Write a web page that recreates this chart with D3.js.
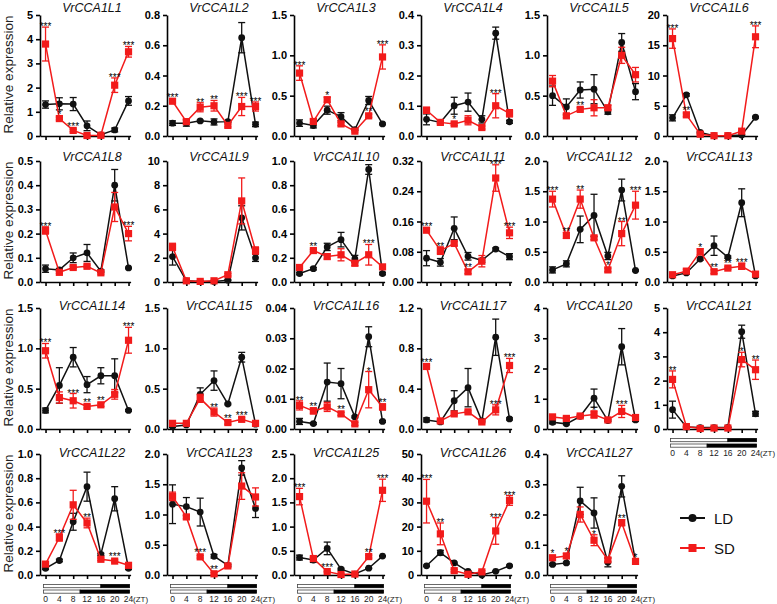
<!DOCTYPE html>
<html><head><meta charset="utf-8">
<script src="https://cdn.jsdelivr.net/npm/d3@7"></script>
<style>
body{margin:0;background:#fff}
svg{display:block}
text{font-family:"Liberation Sans",Arial,Helvetica,sans-serif}
</style>
</head><body>
<svg id="c" width="777" height="604"></svg>
<script>
// ---------- DATA ----------
const times = [0, 4, 8, 12, 16, 20, 24];
const timeLabels = ["0", "4", "8", "12", "16", "20", "24"];
const seriesNames = ["LD", "SD"];

const L1_LD = [1.3, 1.33, 1.32, 0.42, 0.05, 0.25, 1.45];
const L1_LDe = [0.15, 0.25, 0.27, 0.2, 0.02, 0.08, 0.18];
const L1_SD = [3.8, 0.72, 0.23, 0.02, 0.03, 2.1, 3.48];
const L1_SDe = [0.7, 0.06, 0.05, 0.02, 0.02, 0.3, 0.22];
const L1_sig = ["***", "*", "***", "", "", "***", "***"];
const L1_ticks = [0, 1, 2, 3, 4, 5];

const L2_LD = [0.085, 0.085, 0.1, 0.093, 0.095, 0.65, 0.077];
const L2_LDe = [0.015, 0.02, 0.005, 0.02, 0.005, 0.1, 0.015];
const L2_SD = [0.23, 0.095, 0.19, 0.2, 0.07, 0.195, 0.195];
const L2_SDe = [0.01, 0.015, 0.03, 0.035, 0.01, 0.06, 0.03];
const L2_sig = ["***", "", "**", "**", "", "***", "***"];
const L2_ticks = [0, 0.2, 0.4, 0.6, 0.8];

const L3_LD = [0.16, 0.13, 0.32, 0.24, 0.08, 0.44, 0.15];
const L3_LDe = [0.04, 0.03, 0.05, 0.05, 0.01, 0.05, 0.01];
const L3_SD = [0.78, 0.18, 0.45, 0.15, 0.06, 0.25, 0.98];
const L3_SDe = [0.09, 0.03, 0.03, 0.02, 0.01, 0.02, 0.15];
const L3_sig = ["***", "", "*", "", "", "**", "***"];
const L3_ticks = [0, 0.5, 1.0, 1.5];

const L4_LD = [0.055, 0.045, 0.1, 0.112, 0.055, 0.34, 0.047];
const L4_LDe = [0.018, 0.004, 0.028, 0.03, 0.012, 0.02, 0.005];
const L4_SD = [0.085, 0.045, 0.04, 0.052, 0.028, 0.1, 0.075];
const L4_SDe = [0.01, 0.004, 0.005, 0.015, 0.005, 0.04, 0.012];
const L4_sig = ["", "", "*", "", "", "***", ""];
const L4_ticks = [0, 0.1, 0.2, 0.3, 0.4];

const L5_LD = [0.5, 0.36, 0.57, 0.58, 0.3, 1.16, 0.55];
const L5_LDe = [0.12, 0.1, 0.1, 0.18, 0.03, 0.11, 0.1];
const L5_SD = [0.68, 0.25, 0.33, 0.35, 0.35, 1.0, 0.76];
const L5_SDe = [0.07, 0.02, 0.02, 0.1, 0.03, 0.1, 0.09];
const L5_sig = ["", "", "**", "", "", "", ""];
const L5_ticks = [0, 0.5, 1.0, 1.5];

const L6_LD = [3.0, 6.8, 0.6, 0.05, 0.05, 0.15, 3.1];
const L6_LDe = [0.5, 0.2, 0.1, 0.02, 0.02, 0.05, 0.15];
const L6_SD = [16.1, 3.5, 0.3, 0.05, 0.05, 0.8, 16.4];
const L6_SDe = [1.6, 0.3, 0.1, 0.02, 0.02, 0.1, 1.8];
const L6_sig = ["***", "**", "", "", "", "", "***"];
const L6_ticks = [0, 5, 10, 15, 20];

const L8_LD = [0.055, 0.05, 0.1, 0.12, 0.045, 0.4, 0.058];
const L8_LDe = [0.015, 0.005, 0.02, 0.035, 0.005, 0.065, 0.003];
const L8_SD = [0.213, 0.04, 0.06, 0.065, 0.038, 0.31, 0.2];
const L8_SDe = [0.015, 0.005, 0.005, 0.005, 0.005, 0.06, 0.03];
const L8_sig = ["***", "", "", "", "", "", "***"];
const L8_ticks = [0, 0.1, 0.2, 0.3, 0.4, 0.5];

const L9_LD = [2.1, 0.1, 0.05, 0.05, 0.15, 5.3, 2.0];
const L9_LDe = [0.7, 0.05, 0.02, 0.02, 0.05, 1.0, 0.3];
const L9_SD = [2.9, 0.1, 0.05, 0.1, 0.6, 6.7, 2.6];
const L9_SDe = [0.3, 0.05, 0.02, 0.05, 0.1, 1.9, 0.3];
const L9_sig = ["", "", "", "", "", "", ""];
const L9_ticks = [0, 2, 4, 6, 8, 10];

const L10_LD = [0.07, 0.11, 0.29, 0.35, 0.19, 0.93, 0.07];
const L10_LDe = [0.01, 0.01, 0.03, 0.06, 0.03, 0.04, 0.01];
const L10_SD = [0.12, 0.26, 0.21, 0.225, 0.155, 0.225, 0.125];
const L10_SDe = [0.01, 0.01, 0.02, 0.05, 0.02, 0.085, 0.01];
const L10_sig = ["", "**", "", "", "", "***", ""];
const L10_ticks = [0, 0.2, 0.4, 0.6, 0.8, 1.0];

const L11_LD = [0.063, 0.052, 0.142, 0.068, 0.057, 0.087, 0.067];
const L11_LDe = [0.02, 0.01, 0.03, 0.01, 0.005, 0.003, 0.008];
const L11_SD = [0.137, 0.083, 0.102, 0.027, 0.055, 0.275, 0.13];
const L11_SDe = [0.004, 0.01, 0.005, 0.005, 0.015, 0.035, 0.015];
const L11_sig = ["***", "**", "", "**", "", "***", "***"];
const L11_ticks = [0, 0.08, 0.16, 0.24, 0.32];

const L12_LD = [0.2, 0.3, 0.87, 1.1, 0.43, 1.52, 0.19];
const L12_LDe = [0.05, 0.05, 0.22, 0.35, 0.06, 0.18, 0.01];
const L12_SD = [1.37, 0.77, 1.37, 0.73, 0.2, 0.8, 1.27];
const L12_SDe = [0.13, 0.05, 0.15, 0.03, 0.03, 0.2, 0.23];
const L12_sig = ["***", "**", "**", "", "*", "**", "***"];
const L12_ticks = [0, 0.5, 1.0, 1.5, 2.0];

const L13_LD = [0.1, 0.15, 0.38, 0.6, 0.41, 1.31, 0.1];
const L13_LDe = [0.01, 0.02, 0.02, 0.16, 0.02, 0.23, 0.02];
const L13_SD = [0.12, 0.18, 0.5, 0.17, 0.23, 0.26, 0.13];
const L13_SDe = [0.02, 0.03, 0.05, 0.03, 0.02, 0.05, 0.02];
const L13_sig = ["", "", "*", "**", "**", "***", ""];
const L13_ticks = [0, 0.5, 1.0, 1.5, 2.0];

const L14_LD = [0.23, 0.54, 0.89, 0.55, 0.66, 0.66, 0.23];
const L14_LDe = [0.03, 0.22, 0.12, 0.1, 0.1, 0.21, 0.01];
const L14_SD = [0.97, 0.39, 0.35, 0.28, 0.3, 0.43, 1.1];
const L14_SDe = [0.09, 0.07, 0.09, 0.02, 0.02, 0.06, 0.16];
const L14_sig = ["***", "", "***", "**", "**", "", "***"];
const L14_ticks = [0, 0.5, 1.0, 1.5];

const L15_LD = [0.03, 0.05, 0.43, 0.6, 0.31, 0.89, 0.06];
const L15_LDe = [0.01, 0.01, 0.08, 0.12, 0.01, 0.06, 0.01];
const L15_SD = [0.07, 0.07, 0.38, 0.21, 0.08, 0.12, 0.07];
const L15_SDe = [0.01, 0.01, 0.05, 0.05, 0.02, 0.02, 0.01];
const L15_sig = ["", "", "", "**", "**", "***", ""];
const L15_ticks = [0, 0.5, 1.0, 1.5];

const L16_LD = [0.0025, 0.0018, 0.0155, 0.015, 0.004, 0.0305, 0.0025];
const L16_LDe = [0.001, 0.0003, 0.0063, 0.005, 0.0003, 0.0033, 0.0003];
const L16_SD = [0.0078, 0.006, 0.0073, 0.005, 0.0017, 0.013, 0.0073];
const L16_SDe = [0.0015, 0.001, 0.0015, 0.0005, 0.0005, 0.006, 0.001];
const L16_sig = ["**", "**", "", "**", "", "*", "**"];
const L16_ticks = [0, 0.01, 0.02, 0.03, 0.04];

const L17_LD = [0.09, 0.07, 0.28, 0.41, 0.08, 0.91, 0.1];
const L17_LDe = [0.02, 0.01, 0.1, 0.19, 0.01, 0.18, 0.01];
const L17_SD = [0.62, 0.08, 0.15, 0.17, 0.07, 0.19, 0.63];
const L17_SDe = [0.01, 0.01, 0.01, 0.01, 0.01, 0.05, 0.07];
const L17_sig = ["***", "", "", "", "", "***", "***"];
const L17_ticks = [0, 0.4, 0.8, 1.2];

const L20_LD = [0.22, 0.17, 0.42, 1.02, 0.28, 2.72, 0.3];
const L20_LDe = [0.05, 0.03, 0.03, 0.3, 0.03, 0.6, 0.05];
const L20_SD = [0.4, 0.35, 0.43, 0.48, 0.3, 0.58, 0.38];
const L20_SDe = [0.05, 0.05, 0.05, 0.12, 0.03, 0.2, 0.05];
const L20_sig = ["", "", "", "*", "", "***", ""];
const L20_ticks = [0, 1, 2, 3, 4];

const L21_LD = [0.8, 0.08, 0.06, 0.06, 0.07, 4.02, 0.63];
const L21_LDe = [0.35, 0.02, 0.02, 0.02, 0.02, 0.27, 0.1];
const L21_SD = [2.05, 0.1, 0.02, 0.04, 0.04, 2.87, 2.45];
const L21_SDe = [0.35, 0.03, 0.02, 0.02, 0.02, 0.3, 0.4];
const L21_sig = ["**", "", "", "", "", "*", "**"];
const L21_ticks = [0, 1, 2, 3, 4, 5];

const L22_LD = [0.055, 0.12, 0.44, 0.73, 0.17, 0.63, 0.055];
const L22_LDe = [0.01, 0.01, 0.07, 0.12, 0.01, 0.1, 0.01];
const L22_SD = [0.09, 0.31, 0.58, 0.43, 0.13, 0.115, 0.08];
const L22_SDe = [0.01, 0.03, 0.12, 0.04, 0.01, 0.01, 0.01];
const L22_sig = ["", "***", "", "**", "", "***", ""];
const L22_ticks = [0, 0.2, 0.4, 0.6, 0.8, 1.0];

const L23_LD = [1.17, 1.13, 1.04, 0.31, 0.16, 1.77, 1.1];
const L23_LDe = [0.32, 0.15, 0.23, 0.03, 0.02, 0.12, 0.15];
const L23_SD = [1.3, 0.96, 0.3, 0.02, 0.15, 1.47, 1.29];
const L23_SDe = [0.07, 0.03, 0.02, 0.02, 0.02, 0.22, 0.15];
const L23_sig = ["", "", "***", "**", "", "", ""];
const L23_ticks = [0, 0.5, 1.0, 1.5, 2.0];

const L25_LD = [0.36, 0.31, 0.55, 0.12, 0.02, 0.14, 0.39];
const L25_LDe = [0.05, 0.05, 0.13, 0.02, 0.01, 0.01, 0.01];
const L25_SD = [1.62, 0.34, 0.07, 0.01, 0.02, 0.38, 1.75];
const L25_SDe = [0.17, 0.03, 0.01, 0.01, 0.01, 0.03, 0.23];
const L25_sig = ["***", "", "***", "", "", "**", "***"];
const L25_ticks = [0, 0.5, 1.0, 1.5, 2.0, 2.5];

const L26_LD = [3.8, 9.2, 5.0, 1.5, 0.0, 1.5, 3.8];
const L26_LDe = [0.3, 1.0, 0.3, 0.2, 0.2, 0.2, 0.3];
const L26_SD = [30.5, 17, 1.8, 0.3, 1.3, 18.2, 30.8];
const L26_SDe = [9, 4.5, 0.5, 0.3, 0.5, 5.5, 2];
const L26_sig = ["***", "**", "*", "", "", "***", "***"];
const L26_ticks = [0, 10, 20, 30, 40, 50];

const L27_LD = [0.035, 0.04, 0.245, 0.205, 0.042, 0.293, 0.045];
const L27_LDe = [0.003, 0.003, 0.045, 0.05, 0.015, 0.035, 0.003];
const L27_SD = [0.057, 0.063, 0.2, 0.115, 0.05, 0.173, 0.045];
const L27_SDe = [0.005, 0.008, 0.025, 0.018, 0.005, 0.01, 0.005];
const L27_sig = ["*", "*", "", "*", "", "**", "*"];
const L27_ticks = [0, 0.1, 0.2, 0.3, 0.4];

// light/dark schedule (hours of light then dark)
const ldLight = [0, 16], ldDark = [16, 24];
const sdLight = [0, 10], sdDark = [10, 24];

// panel table built from the arrays above
const P = (name, ld, lde, sd, sde, sig, ticks, fmt, bars) => ({name, ld, lde, sd, sde, sig, ticks, fmt, bars});
const rows = [
  [P("VrCCA1L1", L1_LD, L1_LDe, L1_SD, L1_SDe, L1_sig, L1_ticks, "d"),
   P("VrCCA1L2", L2_LD, L2_LDe, L2_SD, L2_SDe, L2_sig, L2_ticks, ".1f"),
   P("VrCCA1L3", L3_LD, L3_LDe, L3_SD, L3_SDe, L3_sig, L3_ticks, ".1f"),
   P("VrCCA1L4", L4_LD, L4_LDe, L4_SD, L4_SDe, L4_sig, L4_ticks, ".1f"),
   P("VrCCA1L5", L5_LD, L5_LDe, L5_SD, L5_SDe, L5_sig, L5_ticks, ".1f"),
   P("VrCCA1L6", L6_LD, L6_LDe, L6_SD, L6_SDe, L6_sig, L6_ticks, "d")],
  [P("VrCCA1L8", L8_LD, L8_LDe, L8_SD, L8_SDe, L8_sig, L8_ticks, ".1f"),
   P("VrCCA1L9", L9_LD, L9_LDe, L9_SD, L9_SDe, L9_sig, L9_ticks, "d"),
   P("VrCCA1L10", L10_LD, L10_LDe, L10_SD, L10_SDe, L10_sig, L10_ticks, ".1f"),
   P("VrCCA1L11", L11_LD, L11_LDe, L11_SD, L11_SDe, L11_sig, L11_ticks, ".2f"),
   P("VrCCA1L12", L12_LD, L12_LDe, L12_SD, L12_SDe, L12_sig, L12_ticks, ".1f"),
   P("VrCCA1L13", L13_LD, L13_LDe, L13_SD, L13_SDe, L13_sig, L13_ticks, ".1f")],
  [P("VrCCA1L14", L14_LD, L14_LDe, L14_SD, L14_SDe, L14_sig, L14_ticks, ".1f"),
   P("VrCCA1L15", L15_LD, L15_LDe, L15_SD, L15_SDe, L15_sig, L15_ticks, ".1f"),
   P("VrCCA1L16", L16_LD, L16_LDe, L16_SD, L16_SDe, L16_sig, L16_ticks, ".2f"),
   P("VrCCA1L17", L17_LD, L17_LDe, L17_SD, L17_SDe, L17_sig, L17_ticks, ".1f"),
   P("VrCCA1L20", L20_LD, L20_LDe, L20_SD, L20_SDe, L20_sig, L20_ticks, "d"),
   P("VrCCA1L21", L21_LD, L21_LDe, L21_SD, L21_SDe, L21_sig, L21_ticks, "d", true)],
  [P("VrCCA1L22", L22_LD, L22_LDe, L22_SD, L22_SDe, L22_sig, L22_ticks, ".1f", true),
   P("VrCCA1L23", L23_LD, L23_LDe, L23_SD, L23_SDe, L23_sig, L23_ticks, ".1f", true),
   P("VrCCA1L25", L25_LD, L25_LDe, L25_SD, L25_SDe, L25_sig, L25_ticks, ".1f", true),
   P("VrCCA1L26", L26_LD, L26_LDe, L26_SD, L26_SDe, L26_sig, L26_ticks, "d", true),
   P("VrCCA1L27", L27_LD, L27_LDe, L27_SD, L27_SDe, L27_sig, L27_ticks, ".1f", true)]
];

// ---------- LAYOUT ----------
const colX = [40, 167, 294, 421, 547, 667];
const rowZero = [136, 282, 429, 575];
const rowTitleY = [11.5, 161, 310, 457];
const plotH = 121;
const RED = "#f21b1b", BLACK = "#111";

const svg = d3.select("#c");

function drawPanel(p, r, c) {
  const ax = colX[c], zero = rowZero[r], top = zero - plotH;
  const x = d3.scaleLinear().domain([-1.6, 24.6]).range([ax, ax + 90.6]);
  const y = d3.scaleLinear().domain([0, d3.max(p.ticks)]).range([zero, top]);
  const g = svg.append("g");

  const yAx = g.append("g").attr("transform", `translate(${ax},0)`)
    .call(d3.axisLeft(y).tickValues(p.ticks).tickFormat(d3.format(p.fmt)).tickSize(4).tickSizeOuter(0).tickPadding(3));
  const xAx = g.append("g").attr("transform", `translate(0,${zero})`)
    .call(d3.axisBottom(x).tickValues(times).tickFormat("").tickSize(4).tickSizeOuter(0));
  [yAx, xAx].forEach(a => {
    a.selectAll("path,line").attr("stroke", "#000").attr("stroke-width", 1.6);
  });
  yAx.selectAll("text").attr("font-size", 11).attr("font-weight", "bold").attr("fill", "#000");

  // title
  g.append("text").attr("x", ax + 52).attr("y", rowTitleY[r]).attr("text-anchor", "middle")
    .attr("font-size", 12.5).attr("font-style", "italic").attr("fill", "#111").text(p.name);

  const series = [
    {vals: p.ld, errs: p.lde, color: BLACK, shape: "circle"},
    {vals: p.sd, errs: p.sde, color: RED, shape: "square"}
  ];
  const line = d3.line().x((d, i) => x(times[i])).y(d => y(d));
  series.forEach(s => {
    const sg = g.append("g");
    sg.append("path").datum(s.vals).attr("d", line).attr("fill", "none")
      .attr("stroke", s.color).attr("stroke-width", 1.5);
    s.vals.forEach((v, i) => {
      const e = s.errs[i];
      if (e > 0) {
        const xi = x(times[i]);
        const y1 = y(Math.max(0, v - e)), y2 = y(v + e);
        sg.append("line").attr("x1", xi).attr("x2", xi).attr("y1", y1).attr("y2", y2)
          .attr("stroke", s.color).attr("stroke-width", 1.3);
        [y1, y2].forEach(yy => sg.append("line").attr("x1", xi - 3.5).attr("x2", xi + 3.5)
          .attr("y1", yy).attr("y2", yy).attr("stroke", s.color).attr("stroke-width", 1.3));
      }
    });
    s.vals.forEach((v, i) => {
      if (s.shape === "circle") {
        sg.append("circle").attr("cx", x(times[i])).attr("cy", y(v)).attr("r", 3.4).attr("fill", s.color);
      } else {
        sg.append("rect").attr("x", x(times[i]) - 3.6).attr("y", y(v) - 3.6)
          .attr("width", 7.2).attr("height", 7.2).attr("fill", s.color);
      }
    });
  });

  // significance stars
  p.sig.forEach((st, i) => {
    if (!st) return;
    const topY = Math.min(y(p.sd[i] + p.sde[i]), y(p.sd[i]) - 3.6);
    g.append("text").attr("x", x(times[i])).attr("y", topY + 3).attr("text-anchor", "middle")
      .attr("font-size", 10).attr("fill", "#000").text(st);
  });

  // light/dark bars
  if (p.bars) {
    const bx0 = x(0) - 2, bx1 = x(24) + 1;
    const xb = d => d === 0 ? bx0 : (d === 24 ? bx1 : x(d));
    [[ldLight, ldDark, zero + 9.5], [sdLight, sdDark, zero + 15]].forEach(([l, d, yy]) => {
      g.append("rect").attr("x", xb(l[0])).attr("y", yy).attr("width", xb(l[1]) - xb(l[0])).attr("height", 3.2)
        .attr("fill", "#fff").attr("stroke", "#444").attr("stroke-width", 0.8);
      g.append("rect").attr("x", xb(d[0])).attr("y", yy).attr("width", xb(d[1]) - xb(d[0])).attr("height", 3.2)
        .attr("fill", "#000").attr("stroke", "#000").attr("stroke-width", 0.8);
    });
    times.forEach((t, i) => {
      g.append("text").attr("x", x(t)).attr("y", zero + 27).attr("text-anchor", "middle")
        .attr("font-size", 8.5).attr("fill", "#222").text(timeLabels[i]);
    });
    g.append("text").attr("x", x(24) + 4.5).attr("y", zero + 27).attr("font-size", 8)
      .attr("fill", "#222").text("(ZT)");
  }
}

rows.forEach((row, r) => {
  row.forEach((p, c) => drawPanel(p, r, c));
  const mid = rowZero[r] - plotH / 2 - 1;
  svg.append("text").attr("transform", `translate(13,${mid}) rotate(-90)`).attr("text-anchor", "middle")
    .attr("font-size", 13.5).attr("fill", "#222").text("Relative expression");
});

// legend
const legend = svg.append("g");
[{name: seriesNames[0], color: BLACK, shape: "circle", y: 518},
 {name: seriesNames[1], color: RED, shape: "square", y: 548}].forEach(d => {
  legend.append("line").attr("x1", 680).attr("x2", 705).attr("y1", d.y).attr("y2", d.y)
    .attr("stroke", d.color).attr("stroke-width", 2);
  if (d.shape === "circle") legend.append("circle").attr("cx", 692.5).attr("cy", d.y).attr("r", 4).attr("fill", d.color);
  else legend.append("rect").attr("x", 688.5).attr("y", d.y - 4).attr("width", 8).attr("height", 8).attr("fill", d.color);
  legend.append("text").attr("x", 714).attr("y", d.y + 5.5).attr("font-size", 15).attr("fill", "#111").text(d.name);
});
</script>
</body></html>
